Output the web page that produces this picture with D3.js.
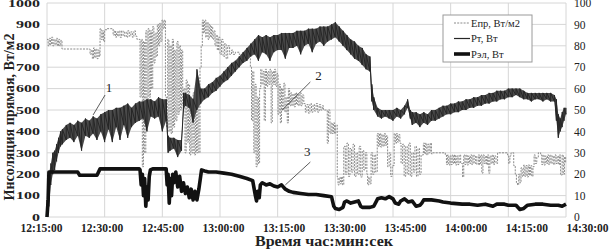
<!DOCTYPE html>
<html>
<head>
<meta charset="utf-8">
<script src="https://cdn.jsdelivr.net/npm/d3@7"></script>
<style>
  body { margin: 0; background: #fff; }
</style>
</head>
<body>
<div id="chart"></div>
<script>
// time is in minutes after 12:15:00
const xTickLabels = ["12:15:00","12:30:00","12:45:00","13:00:00","13:15:00","13:30:00","13:45:00","14:00:00","14:15:00","14:30:00"];
const leftTicks = [0,100,200,300,400,500,600,700,800,900,1000];
const rightTicks = [0,10,20,30,40,50,60,70,80,90,100];
const seriesNames = ["Епр, Вт/м2", "Рт, Вт", "Рэл, Вт"];

// Епр, W/m2 (left axis)
const epr = [
  [0,830],[0.3,800],[0.6,835],[0.9,805],[1.2,840],[1.5,800],[1.8,830],[2.1,805],[2.4,835],[2.7,800],[3.0,830],[3.3,800],[3.6,825],[3.9,785],
  [11.2,760],[11.5,780],[11.8,740],[12.1,790],[12.4,745],[12.7,785],[13.0,740],[13.3,780],[13.6,750],
  [13.8,880],[14.1,830],[14.4,870],[14.7,820],[15.0,875],[15.6,880],[17.2,850],[17.5,870],[17.8,840],[18.1,865],[18.4,845],[18.7,870],[19.0,840],
  [19.4,870],[19.8,845],[20.2,865],[20.6,840],[21.0,870],[21.4,845],[21.8,865],[22.2,840],[22.6,870],[23.0,845],[23.4,830],
  [24.2,560],[24.5,830],[24.8,235],[25.1,820],[25.4,300],[25.7,870],[26.0,550],[26.3,880],[26.6,560],[26.9,870],[27.2,600],[27.5,890],
  [27.8,720],[28.1,860],[28.4,750],[28.7,900],[29.0,800],[29.3,905],[29.6,820],[29.9,920],[30.2,880],[30.5,920],[30.8,560],[31.1,420],
  [31.4,830],[31.7,400],[32.0,800],[32.3,390],[32.6,830],[32.9,420],[33.2,780],[33.5,450],[33.8,820],[34.1,480],[34.4,800],[34.7,500],
  [35.0,780],[35.3,520],[35.6,600],[35.9,300],[36.2,640],[36.5,350],[36.8,620],[37.1,290],[37.4,560],[37.7,300],[38.0,580],[38.3,290],
  [38.6,500],[38.9,300],[39.2,650],[39.5,300],[39.8,700],[40.1,800],[40.4,920],[40.7,860],[41.0,920],[41.3,840],[41.6,910],[41.9,830],
  [42.2,900],[42.5,840],[42.8,890],[43.1,830],[43.4,870],[43.7,800],[44.0,850],[44.3,780],[44.6,840],[45.0,760],[45.4,830],[45.8,750],
  [46.2,810],[46.6,740],[47.0,800],[47.5,760],[48.0,780],[48.4,760],[49,770],[50,760],[51,750],[52,740],
  [52.9,700],[53.2,450],[53.5,680],[53.8,300],[54.1,620],[54.4,235],[54.7,560],[55.0,250],[55.3,600],
  [55.6,690],[55.9,620],[56.2,680],[56.5,450],[56.8,690],[57.1,610],[57.4,680],[57.7,620],[58.0,690],[58.3,440],[58.6,680],[58.9,620],
  [59.2,690],[59.5,610],[59.8,670],[60.1,480],[60.4,620],[60.7,440],[61.0,600],[61.3,500],[61.6,625],[61.9,490],[62.2,560],[62.5,440],
  [62.8,600],[63.1,520],[63.4,580],[63.7,520],[64.0,575],[64.3,515],[64.6,580],[64.9,525],[65.2,575],[65.5,520],[65.8,580],[66.1,520],
  [66.4,570],[66.8,530],[67.2,490],[67.6,525],[68.0,485],[68.4,530],[68.8,490],[69.2,525],[69.6,495],[70.0,530],[70.4,490],[70.8,525],
  [71.2,500],[71.6,520],[71.9,500],[72.5,500],[72.9,345],[73.2,500],[73.6,390],[73.9,440],[74.2,390],[74.5,440],[74.8,390],[75.1,430],
  [75.5,187],[75.7,150],[76.0,185],[76.3,155],[76.6,187],[76.9,150],[77.2,330],[77.6,200],[78.0,345],[78.4,190],[78.8,320],[79.2,210],
  [79.6,340],[80.0,190],[80.4,300],[80.8,200],[81.2,330],[81.6,187],[82.0,310],[82.4,220],[82.8,300],[83.2,200],[83.4,150],[83.7,185],
  [84.0,155],[84.3,300],[84.7,200],[85.1,290],[85.5,210],[85.9,390],[86.2,330],[86.5,390],[86.8,327],[87.1,385],[87.4,330],[87.7,390],
  [88.0,335],[88.3,380],[88.6,235],[89.0,300],[89.4,190],[89.8,240],[90.3,390],[90.6,345],[90.9,390],[91.2,350],[91.5,385],[91.8,345],
  [92.1,250],[92.5,340],[92.9,190],[93.3,330],[93.7,200],[94.1,345],[94.5,190],[94.9,300],[95.3,210],[95.7,330],[96.1,190],[96.5,320],
  [96.9,200],[97.3,290],[97.9,345],[98.2,295],[98.5,345],[98.8,290],[99.1,340],[99.4,300],[99.7,345],[100.0,295],[100.3,300],
  [103.6,290],[103.9,245],[104.2,290],[104.5,243],[104.8,285],[105.1,245],[105.4,290],[105.7,250],[106.0,290],[106.3,243],[106.6,285],
  [106.9,245],[107.2,290],[107.6,250],[108.1,187],[108.4,290],[108.7,245],[109.0,290],[109.3,243],[109.6,285],[109.9,250],[110.2,290],
  [110.5,245],[110.8,290],[111.1,250],[111.5,285],[111.8,245],[112.2,290],[112.5,245],[112.8,290],[113.1,205],[113.4,290],[113.7,250],
  [114.0,285],[114.3,245],[114.6,290],[114.9,205],[115.2,285],[115.5,250],[115.8,290],[116.1,245],[116.4,285],[116.8,250],[117.2,300],
  [119.8,290],[120.1,250],[120.4,285],[120.7,300],[121.4,240],[121.8,200],[122.1,160],[122.4,150],[122.7,200],[123.0,160],[123.3,230],
  [123.6,190],[124.0,243],[124.3,190],[124.6,240],[124.9,187],[125.2,243],[125.5,195],[125.8,240],[126.1,190],[126.4,235],[126.7,290],
  [127.0,250],[127.4,280],[127.8,300],[128.4,290],[128.7,245],[129.0,290],[129.3,243],[129.6,285],[129.9,250],[130.2,290],[130.5,245],
  [130.8,290],[131.1,250],[131.4,285],[131.8,245],[132.1,290],[132.4,250],[132.7,285],[133.0,245],[133.3,290],[133.6,196],[134.0,290],
  [134.3,200],[134.6,280],[134.9,250]
];

// Рт, W (right axis): [time, low, high] of the noisy signal
const pt = [
  [0,0,8],[0.5,5,20],[1,15,25],[1.5,20,30],[2,22,31],[2.5,26,34],[3,30,37],[3.5,33,40],[4,34,41],[5,36,43],[6,37,44],[7,35,43],
  [8,38,45],[9,31,44],[10,38,46],[11,37,45],[12,39,47],[13,36,46],[14,40,48],[15,35,49],[16,41,50],[17,35,50],[18,42,51],[19,36,51],
  [20,43,52],[21,37,53],[22,42,51],[23,44,53],[24,45,54],[25,46,54],[26,40,55],[27,47,55],[28,46,54],[29,47,56],[30,40,55],[31,45,55],
  [31.5,30,38],[32,31,37],[33,32,37],[34,28,36],[35,31,36],[35.5,50,58],[36,52,58],[37,51,57],[38,44,55],[39,50,69],[40,53,60],
  [41,55,60],[42,56,62],[43,58,63],[44,59,65],[45,61,66],[46,63,68],[47,64,70],[48,66,72],[49,68,73],[50,70,75],[51,72,77],[52,73,79],
  [53,75,81],[54,76,83],[55,73,85],[56,77,84],[57,76,85],[58,73,84],[59,77,85],[60,78,85],[61,78,86],[62,74,86],[63,79,86],[64,79,86],
  [65,80,87],[66,76,87],[67,80,87],[68,81,88],[69,77,88],[70,81,88],[71,82,89],[72,80,89],[73,82,89],[74,83,90],[75,84,91],[76,82,89],
  [77,80,87],[78,78,85],[79,76,83],[80,74,82],[81,73,80],[82,71,79],[83,69,76],[84,68,75],[84.5,54,62],[85,50,56],[86,47,51],[87,46,50],
  [88,47,50],[89,46,50],[90,45,50],[91,47,51],[92,46,50],[93,48,52],[93.8,51,55],[94.5,46,50],[95,43,49],[96,44,49],[97,42,48],
  [98,44,49],[99,43,48],[100,45,50],[101,45,50],[102,46,51],[103,47,52],[104,48,52],[105,48,53],[106,49,53],[107,49,54],[108,50,54],
  [109,50,55],[110,51,55],[111,51,56],[112,52,56],[113,52,57],[114,53,57],[115,53,58],[116,54,58],[117,54,59],[118,55,59],[119,55,59],
  [120,56,60],[121,56,60],[122,57,60],[123,56,60],[124,55,59],[125,55,58],[126,54,58],[127,55,58],[128,55,58],[129,54,58],[130,55,58],
  [131,54,58],[132,54,57],[132.5,45,55],[133,37,48],[133.5,40,46],[134,42,49],[134.5,45,51],[135,48,51]
];

// Рэл, W (right axis)
const pel = [
  [0,0],[0.3,8],[0.5,21],[1,21],[4,21],[8,21],[8.5,19.5],[13,19.5],[13.8,22.5],[24,22.5],[24.2,22],[24.5,15],[24.8,20],[25.1,10],
  [25.4,18],[25.7,5],[26.0,14],[26.3,8],[26.6,19],[26.9,22],[27.5,22.5],[31,22.5],[31.25,15],[31.5,20],[31.8,6.5],[32.1,18],[32.4,10],
  [32.7,20],[33,16],[33.5,21],[34,14],[34.5,19],[35,12],[35.5,16],[36,11],[36.5,14],[37,9],[37.5,13],[38,8],[38.5,12],[39,8],[39.5,13],
  [40.2,22],[41,21.5],[42,21],[44,21],[46,20.5],[48,20],[50,19],[52,18],[53.5,17],[54.2,10],[54.5,7.5],[54.8,12],[55.2,9],[55.5,15],
  [56,16],[57,15],[58,15.5],[59,14.5],[60,14],[61,15],[62,13],[63,12],[64,11.5],[66,11],[68,10.5],[70,10.5],[72,10],[74,9.5],[74.6,5],
  [75,4],[76,3.5],[77,4.5],[77.4,7],[78,7.5],[79,6.5],[80,7],[81,7.5],[81.6,5],[82,4.5],[84,4.5],[85,5],[86,8.5],[87,9],[88,8.5],
  [89,9.5],[90,8.5],[90.6,6.5],[91.5,6],[92,7.5],[93,8.5],[94,7],[95,7.5],[96,5],[97,5.5],[97.5,6.5],[98,8],[100,8],[102,7.5],[103,7],
  [105,6.5],[108,6],[110,6],[112,5.5],[114,6],[116,5],[117,6],[119,6],[120,5.5],[122,5.5],[123,3.5],[124,4],[125,5.5],[127,6],[129,6],
  [131,5.5],[133,5.5],[134,5],[135,6]
];

// callouts: label centre and leader line, [time, value] on the axis of the series
const callouts = [
  {label: "1", axis: "R", at: [16.1, 60.7], from: [15.1, 57.0], to: [12.0, 47.7]},
  {label: "2", axis: "L", at: [70.6, 659], from: [68.5, 631], to: [61.2, 500]},
  {label: "3", axis: "R", at: [67.7, 30.4], from: [68.5, 25.7], to: [62.0, 15.0]}
];

const FONT = "'Liberation Serif', 'Times New Roman', 'DejaVu Serif', serif";
const W = 609, H = 250;
const margin = {top: 3, right: 43, bottom: 33, left: 47};
const width = W - margin.left - margin.right,
      height = H - margin.top - margin.bottom;

const t0 = new Date(2000, 0, 1, 12, 15, 0);
const toDate = m => new Date(t0.getTime() + m * 60000);

const svg = d3.select("#chart").append("svg")
    .attr("width", W).attr("height", H)
    .style("font-family", FONT);
const g = svg.append("g")
    .attr("transform", "translate(" + margin.left + "," + margin.top + ")");

const x = d3.scaleTime().domain([t0, toDate(135)]).range([0, width]);
const yL = d3.scaleLinear().domain([0, 1000]).range([height, 0]);
const yR = d3.scaleLinear().domain([0, 100]).range([height, 0]);
const xTicks = xTickLabels.map((s, i) => toDate(i * 15));

// grid
g.append("g").selectAll("line").data(leftTicks).join("line")
    .attr("x1", 0).attr("x2", width)
    .attr("y1", d => yL(d)).attr("y2", d => yL(d))
    .attr("stroke", "#d6d6d6");
g.append("g").selectAll("line").data(xTicks).join("line")
    .attr("x1", d => x(d)).attr("x2", d => x(d))
    .attr("y1", 0).attr("y2", height)
    .attr("stroke", "#d6d6d6");

// axes
const axL = g.append("g").call(d3.axisLeft(yL).tickValues(leftTicks).tickSize(0).tickFormat(d3.format("d")));
axL.attr("font-family", null);
axL.select(".domain").remove();
axL.selectAll("text")
    .attr("font-size", 10).attr("font-weight", "bold").attr("fill", "#222")
    .attr("x", -7 / 1.6).attr("transform", "scale(1.6,1)");

const axR = g.append("g").attr("transform", "translate(" + width + ",0)")
    .call(d3.axisRight(yR).tickValues(rightTicks).tickSize(0).tickPadding(8));
axR.attr("font-family", null);
axR.select(".domain").remove();
axR.selectAll("text").attr("font-size", 11.5).attr("fill", "#222");

const axB = g.append("g").attr("transform", "translate(0," + height + ")")
    .call(d3.axisBottom(x).tickValues(xTicks).tickSize(0).tickPadding(7)
        .tickFormat((d, i) => xTickLabels[i]));
axB.attr("font-family", null);
axB.select(".domain").remove();
// the source labels sit a little wider than the grid
axB.selectAll("text")
    .attr("font-size", 11.5).attr("font-weight", "bold").attr("fill", "#222")
    .attr("dx", (d, i) => (i - 2) * 3);

// titles
svg.append("text")
    .attr("transform", "translate(14,117) rotate(-90)")
    .attr("text-anchor", "middle")
    .attr("font-size", 15).attr("font-weight", "bold").attr("fill", "#222")
    .attr("textLength", 167).attr("lengthAdjust", "spacingAndGlyphs")
    .text("Инсоляция прямая, Вт/м2");
svg.append("text")
    .attr("x", 324).attr("y", 246)
    .attr("text-anchor", "middle")
    .attr("font-size", 14).attr("font-weight", "bold").attr("fill", "#222")
    .attr("textLength", 138).attr("lengthAdjust", "spacingAndGlyphs")
    .text("Время час:мин:сек");

// series
const lineL = d3.line().x(d => x(toDate(d[0]))).y(d => yL(d[1]));
const lineR = d3.line().x(d => x(toDate(d[0]))).y(d => yR(d[1]));

g.append("path")
    .attr("d", lineL.curve(d3.curveStepAfter)(epr))
    .attr("fill", "none").attr("stroke", "#8a8a8a")
    .attr("stroke-width", 1).attr("stroke-dasharray", "2,1.2");

// Рт: envelope of the noise, then the zigzag through low/high
const ptArea = d3.area()
    .x(d => x(toDate(d[0])))
    .y0(d => yR(d[1]))
    .y1(d => yR(d[2]));
g.append("path")
    .attr("d", ptArea(pt))
    .attr("fill", "#4a4a4a");
const ptZig = pt.flatMap(([t, lo, hi]) => [[t, lo], [t, hi]]);
g.append("path")
    .attr("d", lineR(ptZig))
    .attr("fill", "none").attr("stroke", "#262626")
    .attr("stroke-width", 1).attr("stroke-linejoin", "round");

g.append("path")
    .attr("d", lineR(pel))
    .attr("fill", "none").attr("stroke", "#111")
    .attr("stroke-width", 3.6).attr("stroke-linejoin", "round");

// callouts
callouts.forEach(c => {
  const y = c.axis === "L" ? yL : yR;
  g.append("line")
    .attr("x1", x(toDate(c.from[0]))).attr("y1", y(c.from[1]))
    .attr("x2", x(toDate(c.to[0]))).attr("y2", y(c.to[1]))
    .attr("stroke", "#333").attr("stroke-width", 0.8);
  g.append("text")
    .attr("x", x(toDate(c.at[0]))).attr("y", y(c.at[1]))
    .attr("text-anchor", "middle").attr("dominant-baseline", "central")
    .attr("font-size", 13).attr("fill", "#222")
    .text(c.label);
});

// legend
const lg = svg.append("g").attr("transform", "translate(443,15)");
lg.append("rect").attr("width", 89).attr("height", 47)
    .attr("fill", "#fff").attr("stroke", "#9a9a9a");
const legendStyles = [
  {stroke: "#8a8a8a", w: 1, dash: "2,1.2"},
  {stroke: "#262626", w: 1.2, dash: null},
  {stroke: "#111", w: 3.6, dash: null}
];
seriesNames.forEach((name, i) => {
  const yy = 8 + i * 15.5;
  lg.append("line").attr("x1", 11).attr("x2", 27).attr("y1", yy).attr("y2", yy)
    .attr("stroke", legendStyles[i].stroke).attr("stroke-width", legendStyles[i].w)
    .attr("stroke-dasharray", legendStyles[i].dash);
  lg.append("text").attr("x", 28).attr("y", yy + 3.5)
    .attr("font-size", 10.5).attr("fill", "#222")
    .text(name);
});
</script>
</body>
</html>
